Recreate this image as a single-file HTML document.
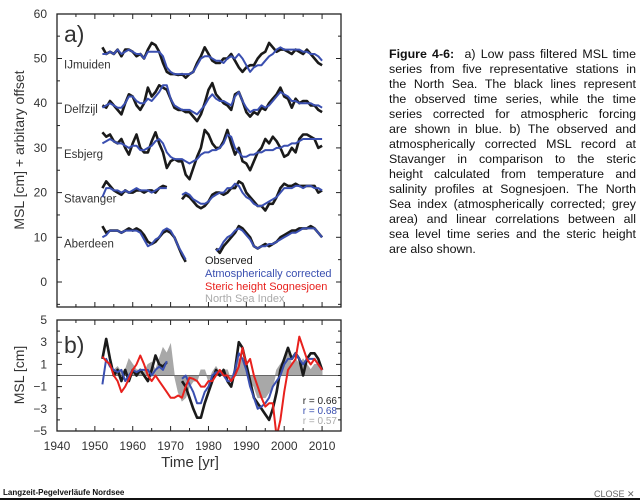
<!DOCTYPE html>
<html><head><meta charset="utf-8">
<style>
body{margin:0;width:640px;height:501px;background:#fff;overflow:hidden;position:relative;font-family:"Liberation Sans",sans-serif}
#cap{position:absolute;left:389px;top:47px;width:247px;font-size:12.4px;line-height:15px;color:#111}
#cap span{display:block;text-align:justify;text-align-last:justify;white-space:nowrap}
#cap span.last{text-align-last:left}
#foot{position:absolute;left:3px;top:488px;font-size:8px;font-weight:bold;color:#111}
#bar{position:absolute;left:0;top:498px;width:640px;height:2px;background:#111}
#close{position:absolute;left:594px;top:489px;font-size:9px;color:#666}
</style></head><body>
<svg id="chart" width="640" height="501" style="position:absolute;left:0;top:0" font-family="Liberation Sans, sans-serif"></svg>
<div id="cap"><span><b>Figure 4-6:</b>&nbsp; a) Low pass filtered MSL time</span><span>series from five representative stations in</span><span>the North Sea. The black lines represent</span><span>the observed time series, while the time</span><span>series corrected for atmospheric forcing</span><span>are shown in blue. b) The observed and</span><span>atmospherically corrected MSL record at</span><span>Stavanger in comparison to the steric</span><span>height calculated from temperature and</span><span>salinity profiles at Sognesjoen. The North</span><span>Sea index (atmospherically corrected; grey</span><span>area) and linear correlations between all</span><span>sea level time series and the steric height</span><span class="last">are also shown.</span></div>
<div id="foot">Langzeit-Pegelverläufe Nordsee</div>
<div id="bar"></div>
<div id="close">CLOSE ✕</div>
<script>
const ijmObs=[52.5,51,51.5,51,52,50.5,52,52,51.5,50.5,51,50,52,53.5,53,51.5,49,47,46.5,46.5,46.3,46.5,45.7,46.5,47,49,50.5,52.5,51,49.5,49,49,50,50,51,49.5,48,47,48,48.5,48.5,50,51,51.5,53.5,52.5,51.5,52,52,51.5,51,52,51.5,51,52,51,50,49,48.5];
const ijmCor=[51,51,51.5,51,52,51,51.5,52,51.5,51,51,50,51.5,51.5,51.5,51.5,50.5,48,47,46.5,46.5,46.5,46.5,46.5,47,48.5,50,50.5,50.5,50,49.5,49.5,49,50,50.5,50,51,50,48.5,47,48,48.5,48.5,49.5,50.5,51,52,52.5,52,52,52,52,52,51.5,51.5,51,51,50.5,49.5];
const delObs=[39.5,39,40.5,39.5,38.5,37.5,40,42,41.5,39.5,38.5,40,43.5,41.5,42.5,44,43.5,43,41,39,38.5,38.5,38,38,37,36,37.5,40,43,44.5,42,41,40,39.5,38.5,42,42.5,40.5,38,37,38,37.5,39,38.5,40,41,42,43.5,41.5,41,39,41,40,40.5,40.5,39.5,39.5,38.5,38];
const delCor=[39,39.5,40,39.5,39,39,40,41.5,41.5,40.5,40,40,41,40.5,41.5,42.5,44,44,41,39.5,39,38.5,38.5,38.5,38,37.5,38.5,39.5,41,42,41,40.5,40.5,40,39.5,41.5,42.5,40.5,39,38,38.5,38.5,39.5,39,39.5,40.5,41.5,42.5,42,41.5,40.5,40.5,40,40,40,40,39.5,39.5,39];
const esbObs=[33.5,32.5,33,31.5,31,32,30,28.5,31,33,30,29,29,31.5,33.5,31,29,25.5,27,27.5,27,27,24,23,25.5,28,30,34,33,31,30,30,31.5,34,31,28.5,30,27,26.5,25,27,29,30,32,31,32.5,31.5,30,28,28.5,30,29,32,33,33,32.5,32,30,30.5];
const esbCor=[31,31.5,32,31.5,31,31,30.5,30,30.5,30.5,29.5,29.5,30,30.5,31.5,32,31,29,28,27.5,27.5,27.5,27,26.5,27,27.5,28.5,29,29,29.5,29.5,30,31,33,32.5,30,29,28,28,28.5,28.5,29,29,29.5,29.5,29.5,30,30,30.5,30.5,31,31,31.5,32,32,32,32,32,32];
const stvObs1=[21,22.5,21.5,20.5,20,19.5,20.5,20,20,20.5,20.5,20,20.5,20.5,20,21,21.5,21.2];
const stvCor1=[19,21,21,20.5,20.5,20,20.5,20,20.5,21,20.5,20.5,20.5,20,20.5,21,21,21];
const stvObs2=[18.5,19.5,19,18,17,16.5,17,18,19.5,20,20,19.5,20,21,21,22.5,22,20,19,18,17,17,16,17.5,17.5,19,21,22,21.5,21.5,22,21.5,21.5,21.5,21.5,21.5,20,20.5];
const stvCor2=[19.5,20,19.5,18.5,18,17.5,17.5,18,19,19.5,20,20,21,21,22,21.5,20,19,18.5,17.5,17,17,17.5,18,18.5,19,20,21,21,21,21.5,21.5,21,21.5,21.5,21,21,20.5];
const abdObs1=[12.5,11,11.5,11.5,11.5,11,11.5,12,11.5,12,11.5,10.5,9,8.5,9,10,11,11.5,11,10,8,6,4.5];
const abdCor1=[10,10.5,11.5,11.5,11.5,11,11.5,11.5,11.5,11.5,11,9.5,8,8.5,9.5,10,11.5,12,11.5,10,8,6.5,5];
const abdObs2=[7.5,6.5,8,9,10,11,12.5,12,11,10,8,7.5,8,8.5,8,8.5,9,10,10.5,11,11.5,11.5,12,12,12,12.5,12,11,10];
const abdCor2=[7,7.5,9,10,10.5,11.5,12,11.5,10.5,9.5,8,7.5,8,8,8.5,8.5,9,9.5,10,10.5,11,11,11.5,12,12,12,12,11,10];
const bObs1=[1.5,3.3,1.5,0,0.5,-0.5,0.5,-0.5,0.5,0,0.5,0,-0.5,0.5,1.8,1,0.8,1.2];
const bObs2=[-0.5,-1,-2,-3,-3.8,-3.8,-2.5,-1.5,-0.5,0.5,0,0.5,-0.5,-1,0.5,3,2.5,1,-0.5,-2,-2.5,-3,-3.5,-4,-3,-1.5,0.5,1.5,2.5,1.5,2,1.5,0,1.5,2,2,1.5,0.5];
const bCor1=[-0.8,1.5,0.8,0.5,0.3,0.5,-0.5,0,0.5,0.3,0.5,0.5,0.5,0,0.5,0.8,0.5,1.3];
const bCor2=[-0.3,0,-0.8,-1.5,-2.5,-2.5,-1.5,-1,0,0.3,0.3,0,-0.5,-0.5,0.5,2,1.5,0.5,-1,-2,-3,-2.8,-2.5,-2,-1,-0.5,0,1,1.5,1.5,2,1.5,1,1.5,1.5,1.5,1,0.5];
const bSteric=[1.7,1.3,1,0,-0.5,-1.5,-1,-0.3,0.5,1,1.8,1,0,-0.5,0,-0.5,-1,-1.5,-2,-2,-1.8,-2,-1,-0.2,-0.3,-0.5,-1,-1,-0.5,-0.5,0,0.5,0,0,-0.5,0,0.8,2.5,1,1.5,0,-1,-2,-2.8,-2.5,-2.5,-5.5,-4,-1.5,0.5,1,1.5,3.5,2.5,1.5,1,1.5,1,0.5];
const bIndex=[0.5,0.8,0.3,0.5,1.5,1,0.5,0.5,0.3,1,1.2,0.5,1.5,2.5,2,2.8,0,-1.5,-2.3,-2,-1,-0.5,-0.5,0.5,0.5,-0.5,0.3,0.8,0.3,0.5,0.5,-0.5,0.5,1.5,1.5,1,-0.5,-1,-2,-2,-2,-1.5,-1,0.5,1,1.5,2,1,1.5,1,1.5,1,0.5,1,1,0.5];
const xTicks=[1940,1950,1960,1970,1980,1990,2000,2010];
const yTicksA=[0,10,20,30,40,50,60];
const yTicksB=[-5,-3,-1,1,3,5];
const stations=["IJmuiden","Delfzijl","Esbjerg","Stavanger","Aberdeen"];
const stationY=[50,40,30,20,10];
const rLabels=["r = 0.66","r = 0.68","r = 0.57"];

const svg=document.getElementById('chart');
const NS="http://www.w3.org/2000/svg";
const L=57,R=341;
const x=y=>L+(y-1940)*(R-L)/75;
const ya=v=>282-v*4.47;
const yb=v=>375.5-v*11.1;
function mk(t,a,p){const e=document.createElementNS(NS,t);for(const k in a)e.setAttribute(k,a[k]);(p||svg).appendChild(e);return e;}
function line(arr,y0,sy,col,w,name){
  const d=arr.map((v,i)=>(i?'L':'M')+x(y0+i).toFixed(1)+','+sy(v).toFixed(1)).join('');
  const p=mk('path',{d:d,fill:'none',stroke:col,'stroke-width':w,'stroke-linejoin':'round'});
  
  
}
function txt(s,xx,yy,sz,col,anchor,name,extra){
  const t=mk('text',Object.assign({x:xx,y:yy,'font-size':sz,fill:col,'text-anchor':anchor||'start'},extra||{}));
  t.textContent=s;
  
  
  return t;
}
function frame(top,bot,name){
  const r=mk('rect',{x:L,y:top,width:R-L,height:bot-top,fill:'none',stroke:'#222','stroke-width':1.3});
  
  
  for(let yr=1940;yr<=2015;yr+=5){
    const len=yr%10===0?5:3;
    mk('line',{x1:x(yr),x2:x(yr),y1:bot,y2:bot-len,stroke:'#222'});
    mk('line',{x1:x(yr),x2:x(yr),y1:top,y2:top+len,stroke:'#222'});
  }
}
// Panel a
frame(14,307,'panel-a-frame');
for(let v=-5;v<=65;v+=5){const yy=ya(v);if(yy<14||yy>307)continue;const len=v%10===0?5:3;
  mk('line',{x1:L,x2:L+len,y1:yy,y2:yy,stroke:'#222'});mk('line',{x1:R,x2:R-len,y1:yy,y2:yy,stroke:'#222'});}
yTicksA.forEach(v=>txt(String(v),47,ya(v)+4,12,'#333','end','y-tick-a'));
txt('MSL [cm] + arbitary offset',0,0,14,'#333','middle','y-axis-title-a',{transform:'translate(24,150) rotate(-90)'});
txt('a)',64,42,23,'#333','start','panel-a-label');
stations.forEach((s,i)=>txt(s,64,ya(stationY[i])+10,11.5,'#333','start','station-label'));
line(ijmObs,1952,ya,'#1a1a1a',2.6,'ijmuiden-observed');line(ijmCor,1952,ya,'#3a4fb0',2,'ijmuiden-corrected');
line(delObs,1952,ya,'#1a1a1a',2.6,'delfzijl-observed');line(delCor,1952,ya,'#3a4fb0',2,'delfzijl-corrected');
line(esbObs,1952,ya,'#1a1a1a',2.6,'esbjerg-observed');line(esbCor,1952,ya,'#3a4fb0',2,'esbjerg-corrected');
line(stvObs1,1952,ya,'#1a1a1a',2.6,'stavanger-observed');line(stvCor1,1952,ya,'#3a4fb0',2,'stavanger-corrected');
line(stvObs2,1973,ya,'#1a1a1a',2.6,'stavanger-observed');line(stvCor2,1973,ya,'#3a4fb0',2,'stavanger-corrected');
line(abdObs1,1952,ya,'#1a1a1a',2.6,'aberdeen-observed');line(abdCor1,1952,ya,'#3a4fb0',2,'aberdeen-corrected');
line(abdObs2,1982,ya,'#1a1a1a',2.6,'aberdeen-observed');line(abdCor2,1982,ya,'#3a4fb0',2,'aberdeen-corrected');
txt('Observed',205,264,11,'#222','start','legend-observed');
txt('Atmospherically corrected',205,277,11,'#3a4fb0','start','legend-corrected');
txt('Steric height Sognesjoen',205,290,11,'#e8211d','start','legend-steric');
txt('North Sea Index',205,302,11,'#aaa','start','legend-index');
// Panel b
const idx=bIndex.map((v,i)=>x(1955+i).toFixed(1)+','+yb(v).toFixed(1));
const poly=mk('polygon',{points:x(1955)+','+yb(0)+' '+idx.join(' ')+' '+x(1955+bIndex.length-1)+','+yb(0),fill:'#a8a8a8',stroke:'#a8a8a8','stroke-width':0.8});


mk('line',{x1:L,x2:R,y1:yb(0),y2:yb(0),stroke:'#666','stroke-width':1});
line(bObs1,1952,yb,'#1a1a1a',2.6,'stavanger-observed-b');line(bObs2,1973,yb,'#1a1a1a',2.6,'stavanger-observed-b');
line(bCor1,1952,yb,'#3a4fb0',2,'stavanger-corrected-b');line(bCor2,1973,yb,'#3a4fb0',2,'stavanger-corrected-b');
const cp=mk('clipPath',{id:'cb'});mk('rect',{x:L,y:320,width:R-L,height:111},cp);
const g=mk('g',{'clip-path':'url(#cb)'});
(function(){const d=bSteric.map((v,i)=>(i?'L':'M')+x(1952+i).toFixed(1)+','+yb(v).toFixed(1)).join('');
 const p=mk('path',{d:d,fill:'none',stroke:'#e8211d','stroke-width':2,'stroke-linejoin':'round'},g);
 
 })();
frame(320,431,'panel-b-frame');
for(let v=-5;v<=5;v+=1){const len=(v%2)?5:3;
  mk('line',{x1:L,x2:L+len,y1:yb(v),y2:yb(v),stroke:'#222'});mk('line',{x1:R,x2:R-len,y1:yb(v),y2:yb(v),stroke:'#222'});}
yTicksB.forEach(v=>txt(v<0?'\u2212'+(-v):String(v),47,yb(v)+4,12,'#333','end','y-tick-b'));
xTicks.forEach(v=>txt(String(v),x(v),450,12,'#333','middle','x-tick'));
txt('MSL [cm]',0,0,14,'#333','middle','y-axis-title-b',{transform:'translate(24,375) rotate(-90)'});
txt('Time [yr]',190,467,15,'#333','middle','x-axis-title');
txt('b)',64,353,23,'#333','start','panel-b-label');
const rc=['#222','#3a4fb0','#aaa'];
rLabels.forEach((s,i)=>txt(s,337,404+i*10,10,rc[i],'end','correlation-label'));
</script>
</body></html>
